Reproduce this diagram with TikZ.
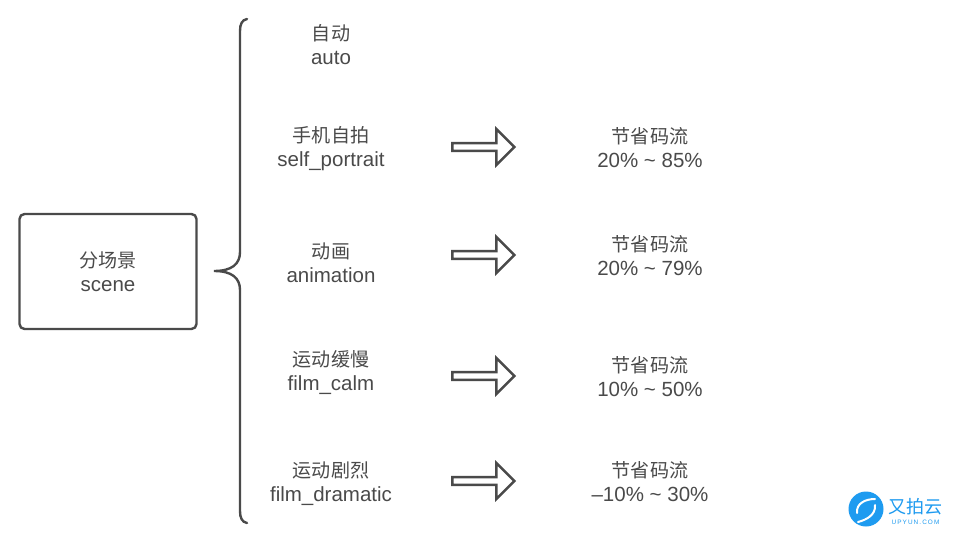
\documentclass[tikz,border=0pt]{standalone}
\usepackage{fontspec}
\usepackage{xcolor}
\setmainfont{Liberation Sans}
\newfontfamily\cjk[Scale=0.93]{Noto Sans CJK SC}
\newfontfamily\brandcjk{Noto Sans CJK SC}
\definecolor{ink}{HTML}{4A4A4A}
\definecolor{logoblue}{HTML}{1E9BF0}
\usetikzlibrary{shapes.arrows}

\begin{document}
\begin{tikzpicture}[x=1pt,y=-1pt,node distance={150.5pt},
  label/.style = {align=center,inner sep=0pt,text=ink,font=\fontsize{20.5}{24}\selectfont},
  main/.style = {draw=ink,line width=2.4pt,rounded corners=5pt,minimum width=177pt,minimum height=115pt,label},
  hollow/.style = {draw=ink,line width=2.4pt,single arrow,single arrow head extend=4.4pt,minimum height=62pt,minimum width=36pt,inner sep=0pt}]
\useasboundingbox (0,0) rectangle (960,540);
\fill[white] (0,0) rectangle (960,540);
\node[main] (scene) at (108,271.5) {{\cjk 分场景}\\scene};
\node[label] (auto) at (331,45) {{\cjk 自动}\\auto};
\node[label] (portrait) at (331,149) {{\cjk 手机自拍}\\self\_portrait};
\node[label] (animation) at (331,263) {{\cjk 动画}\\animation};
\node[label] (calm) at (331,373) {{\cjk 运动缓慢}\\film\_calm};
\node[label] (dramatic) at (331,484) {{\cjk 运动剧烈}\\film\_dramatic};
\node[hollow] (a1) [right of=portrait,yshift=2pt] {};
\node[hollow] (a2) [right of=animation,yshift=8pt] {};
\node[hollow] (a3) [right of=calm,yshift=-3pt] {};
\node[hollow] (a4) [right of=dramatic,yshift=3pt] {};
\node[label] (s1) [right of=a1,node distance=168.5pt,yshift=-1pt] {{\cjk 节省码流}\\20\% \textasciitilde{} 85\%};
\node[label] (s2) [right of=a2,node distance=168.5pt,yshift=-1pt] {{\cjk 节省码流}\\20\% \textasciitilde{} 79\%};
\node[label] (s3) [right of=a3,node distance=168.5pt,yshift=-1pt] {{\cjk 节省码流}\\10\% \textasciitilde{} 50\%};
\node[label] (s4) [right of=a4,node distance=168.5pt,yshift=-1pt] {{\cjk 节省码流}\\--10\% \textasciitilde{} 30\%};
% brace
\draw[ink,line width=2.4pt,line cap=round] (247,19) .. controls (242,20) and (240,24) .. (240,31) -- (240,252) .. controls (240,264) and (232,271) .. (214,271) .. controls (232,271) and (240,278) .. (240,290) -- (240,511) .. controls (240,518) and (242,522) .. (247,523);
% logo
\node[circle,fill=logoblue,minimum size=35pt,inner sep=0pt] (logo) at (866,509) {};
\draw[white,line width=2pt,line cap=round] (857,513) .. controls (856,503) and (866,499) .. (875,499);
\draw[white,line width=2pt,line cap=round] (875,505) .. controls (876,515) and (866,520) .. (858,522);
\node[inner sep=0pt,text=logoblue,font=\fontsize{18}{18}\selectfont\brandcjk] (brand) at (915,507) {又拍云};
\node[inner sep=0pt,text=logoblue,font=\fontsize{6.4}{6}\selectfont] (site) at (915.5,522) {U\,P\,Y\,U\,N\,.\,C\,O\,M};
\end{tikzpicture}
\end{document}
